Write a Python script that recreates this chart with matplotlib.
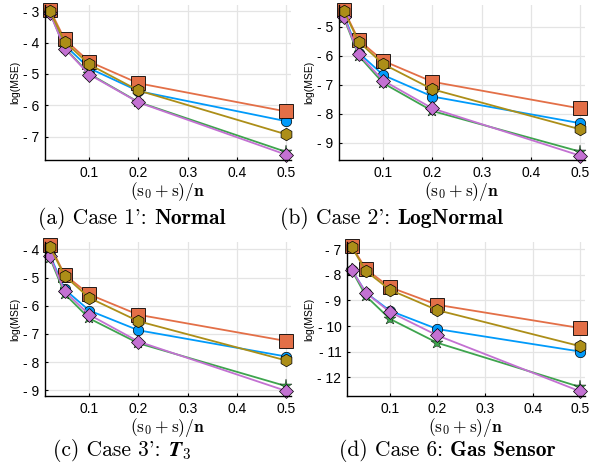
import numpy as np
import matplotlib
matplotlib.use("Agg")
import matplotlib.pyplot as plt
from matplotlib.ticker import FuncFormatter

plt.rcParams['mathtext.fontset'] = 'cm'
plt.rcParams['font.family'] = ['Liberation Sans', 'DejaVu Sans']

x = [0.02, 0.05, 0.1, 0.2, 0.5]

# panel (a) Case 1' Normal
a_blue = [-3.02, -4.08, -4.82, -5.55, -6.51]
a_orange = [-2.95, -3.90, -4.61, -5.30, -6.20]
a_green = [-3.05, -4.17, -5.00, -5.90, -7.49]
a_purple = [-3.05, -4.19, -5.02, -5.91, -7.58]
a_gold = [-3.00, -3.97, -4.70, -5.53, -6.93]

# panel (b) Case 2' LogNormal
b_blue = [-4.60, -5.90, -6.67, -7.41, -8.33]
b_orange = [-4.42, -5.46, -6.18, -6.90, -7.82]
b_green = [-4.70, -6.00, -6.95, -7.91, -9.31]
b_purple = [-4.66, -5.95, -6.86, -7.82, -9.45]
b_gold = [-4.45, -5.52, -6.29, -7.16, -8.54]

# panel (c) Case 3' T3
c_blue = [-4.20, -5.42, -6.17, -6.87, -7.80]
c_orange = [-3.86, -4.90, -5.60, -6.32, -7.25]
c_green = [-4.30, -5.58, -6.45, -7.33, -8.85]
c_purple = [-4.25, -5.49, -6.32, -7.27, -9.02]
c_gold = [-3.92, -4.94, -5.72, -6.55, -7.94]

# panel (d) Case 6 Gas Sensor
d_blue = [-7.80, -8.70, -9.40, -10.12, -11.00]
d_orange = [-6.87, -7.78, -8.48, -9.17, -10.08]
d_green = [-7.82, -8.83, -9.72, -10.66, -12.39]
d_purple = [-7.80, -8.70, -9.45, -10.37, -12.56]
d_gold = [-6.91, -7.85, -8.58, -9.38, -10.79]

yticks_a = [-7, -6, -5, -4, -3]
yticks_b = [-9, -8, -7, -6, -5]
yticks_c = [-9, -8, -7, -6, -5, -4]
yticks_d = [-12, -11, -10, -9, -8, -7]
xticks = [0.1, 0.2, 0.3, 0.4, 0.5]

captions = [("(a) Case 1': ", "Normal"), ("(b) Case 2': ", "LogNormal"),
            ("(c) Case 3': ", r"$\mathbfit{T}_3$"), ("(d) Case 6: ", "Gas Sensor")]

colors = ['#009AFA', '#E36F47', '#3EA44E', '#C371D2', '#AC8E18']
markers = ['o', 's', '*', 'D', 'h']
msizes = [7.5, 9.5, 9.5, 7, 9]
edgew = [0.5, 0.6, 0.3, 0.5, 0.5]

W, H = 605, 468
fig = plt.figure(figsize=(W / 100, H / 100), dpi=100)

# axes boxes in pixels: left, top, right, bottom
boxes = [(45, 5, 291, 160), (339, 5, 585, 160), (45, 242, 291, 396), (347, 242, 585, 396)]
ylims = [(-7.75, -2.8), (-9.6, -4.25), (-9.2, -3.74), (-12.74, -6.71)]
data = [[a_blue, a_orange, a_green, a_purple, a_gold],
        [b_blue, b_orange, b_green, b_purple, b_gold],
        [c_blue, c_orange, c_green, c_purple, c_gold],
        [d_blue, d_orange, d_green, d_purple, d_gold]]
yticks = [yticks_a, yticks_b, yticks_c, yticks_d]
cap_pos = [(132, 218), (392, 218), (122, 451), (447, 451)]

for i in range(4):
    l, t, r, b = boxes[i]
    ax = fig.add_axes([l / W, 1 - b / H, (r - l) / W, (b - t) / H])
    for ys, c, m, ms, ew in zip(data[i], colors, markers, msizes, edgew):
        ax.plot(x, ys, color=c, lw=1.3, marker=m, ms=ms, mfc=c, mec='black',
                mew=ew, clip_on=False)
    ax.set_xlim(0.01, 0.51)
    ax.set_ylim(*ylims[i])
    ax.set_xticks(xticks)
    ax.set_yticks(yticks[i])
    ax.yaxis.set_major_formatter(FuncFormatter(lambda v, p: "- %d" % abs(round(v))))
    ax.grid(True, color='#e4e4e4', lw=0.9)
    ax.set_axisbelow(True)
    for s in ['top', 'right']:
        ax.spines[s].set_visible(False)
    for s in ['left', 'bottom']:
        ax.spines[s].set_linewidth(1.0)
    ax.tick_params(direction='in', length=2, labelsize=10, pad=4)
    ax.set_ylabel('log(MSE)', fontsize=7.5, labelpad=2)
    ax.set_xlabel(r'$(\mathrm{s}_0+\mathrm{s})/\mathbf{n}$', fontsize=12.5, labelpad=0)

    cx, cy = cap_pos[i]
    pre, bold = captions[i]
    t1 = fig.text(cx / W - 0.15, 1 - cy / H, pre, family='cmr10', fontsize=15.5,
                  va='center', ha='left')
    t2 = fig.text(0, 0, bold, family='cmb10', fontsize=15.5)
    fig.canvas.draw()
    rnd = fig.canvas.get_renderer()
    w1 = t1.get_window_extent(rnd).width
    w2 = t2.get_window_extent(rnd).width
    x0 = cx - (w1 + w2) / 2
    t1.set_x(x0 / W)
    t2.set_position((x0 / W + w1 / W, 1 - cy / H))
    t2.set_va('center')

fig.savefig('out.png', dpi=100)
